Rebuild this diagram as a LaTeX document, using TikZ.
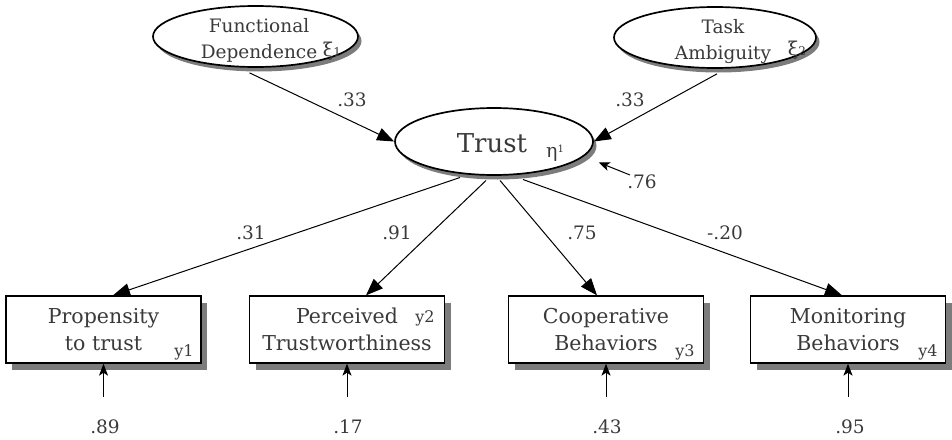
\documentclass[tikz,border=0pt]{standalone}
\usepackage{fontspec}
\setmainfont{DejaVu Serif}
\usetikzlibrary{shapes.geometric,shadows,arrows.meta,calc}
\definecolor{ink}{HTML}{3A3A3A}
\definecolor{shade}{HTML}{7C7C7C}
\begin{document}
\begin{tikzpicture}[x=1pt,y=-1pt,
  latent/.style={ellipse,draw=black,line width=1.7pt,fill=white,inner sep=0pt,
    drop shadow={shadow xshift=3.5pt,shadow yshift=-4.5pt,fill=shade,opacity=1}},
  observed/.style={rectangle,draw=black,line width=1.3pt,fill=white,
    minimum width=195pt,minimum height=67pt,inner sep=0pt,align=center,text=ink,
    font=\fontsize{20.5}{27}\selectfont,
    drop shadow={shadow xshift=6pt,shadow yshift=-6.5pt,fill=shade,opacity=1}},
  lattext/.style={align=center,text=ink,inner sep=0pt,font=\fontsize{18.5}{26}\selectfont},
  sym/.style={text=ink,inner sep=0pt,font=\fontsize{16}{16}\selectfont},
  greek/.style={text=ink,inner sep=0pt,font=\fontsize{19}{19}\selectfont},
  coef/.style={text=ink,inner sep=0pt,font=\fontsize{18.5}{19}\selectfont},
  path/.style={line width=1pt,draw=black,-{Triangle[length=17pt,width=13pt]}},
  err/.style={line width=1pt,draw=black,-{Stealth[length=12pt,width=9pt,inset=3pt]}}
]
\useasboundingbox (0,0) rectangle (952,439);

% exogenous latent variables
\node[latent,minimum width=205pt,minimum height=61pt] (fd) at (255.5,36.5) {};
\node[lattext] (fdtext) at (259,40) {Functional\\Dependence};
\node[greek] (xi1) at (332,51) {ξ{\fontsize{12}{12}\selectfont 1}};

\node[latent,minimum width=202pt,minimum height=61pt] (ta) at (715,37.5) {};
\node[lattext] (tatext) at (723,42) {Task\\Ambiguity};
\node[greek] (xi2) at (797,50) {ξ{\fontsize{12}{12}\selectfont 2}};

% endogenous latent variable
\node[latent,minimum width=198pt,minimum height=67pt] (trust) at (494,141.5) {};
\node[text=ink,inner sep=0pt,font=\fontsize{26}{26}\selectfont] (trusttext) at (492,143) {Trust};
\node[greek] (eta1) at (555,153) {η\raisebox{5pt}{\fontsize{10}{10}\selectfont 1}};

% indicators
\node[observed] (b1) at (103.5,329.5) {Propensity\\to trust};
\node[observed] (b2) at (347,329.5) {Perceived\\Trustworthiness};
\node[observed] (b3) at (606,329.5) {Cooperative\\Behaviors};
\node[observed] (b4) at (848,329.5) {Monitoring\\Behaviors};

\node[sym] (y1) at (184,352) {y1};
\node[sym] (y2) at (425,318) {y2};
\node[sym] (y3) at (685,352) {y3};
\node[sym] (y4) at (928,352) {y4};

% structural paths
\draw[path] ($(fd.south)+(-6,5)$) -- (trust.west);
\draw[path] ($(ta.south)+(2,5)$) -- (trust.east);
\node[coef] (g1) at (352,100) {.33};
\node[coef] (g2) at (630,100) {.33};

% disturbance of Trust
\node[coef] (zeta) at (642,182) {.76};
\coordinate (zetatail) at (630,175);
\draw[err,-{Stealth[length=11pt,width=9pt,inset=3pt]}] (zetatail) -- ($(trust.east)+(5,21)$);

% loadings
\draw[path] ($(trust.center)+(-34,36)$) -- ($(b1.north)+(9.5,0)$);
\draw[path] ($(trust.center)+(-8,39)$) -- ($(b2.north)+(19,0)$);
\draw[path] ($(trust.center)+(6,39)$) -- ($(b3.north)+(-9,0)$);
\draw[path] ($(trust.center)+(29,38)$) -- ($(b4.north)+(-6,0)$);
\node[coef] (l1) at (251,233) {.31};
\node[coef] (l2) at (397,233) {.91};
\node[coef] (l3) at (582,233) {.75};
\node[coef] (l4) at (725,233) {-.20};

% measurement errors
\node[coef] (e1) at (105,427) {.89};
\node[coef] (e2) at (348,427) {.17};
\node[coef] (e3) at (607,427) {.43};
\node[coef] (e4) at (850,427) {.95};
\coordinate (e1t) at (103.5,397);
\coordinate (e2t) at (347,397);
\coordinate (e3t) at (606,397);
\coordinate (e4t) at (848,397);
\draw[err] (e1t) -- (b1.south);
\draw[err] (e2t) -- (b2.south);
\draw[err] (e3t) -- (b3.south);
\draw[err] (e4t) -- (b4.south);
\end{tikzpicture}
\end{document}
